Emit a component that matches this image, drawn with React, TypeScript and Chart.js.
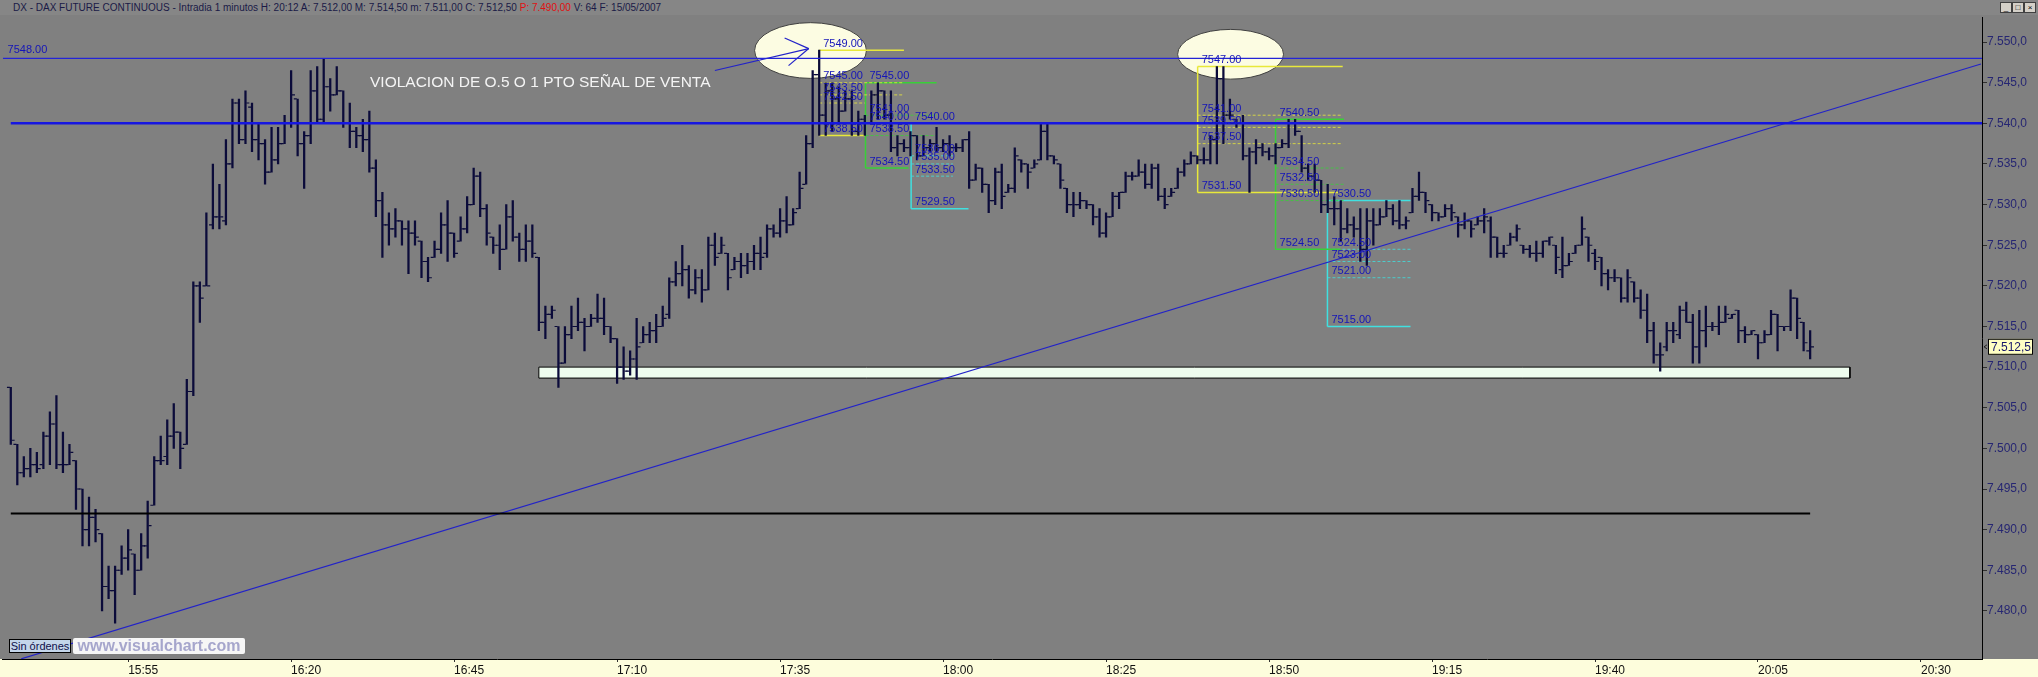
import React, { useEffect, useRef } from "react";
import { Chart, registerables } from "chart.js";
Chart.register(...registerables);

// ---- data: 1-minute bars, minute offset from 15:00, first bar 15:37 ----
const START_MINUTE = 37;

const opens = [
  7507.5, 7500.5, 7497, 7497.5, 7498, 7498, 7501.5, 7503, 7498, 7498,
  7498.5, 7495, 7490, 7491.5, 7489.5, 7483, 7482.5, 7485, 7486.5, 7487,
  7485, 7488, 7493, 7498.5, 7499, 7501.5, 7502, 7500.5, 7507, 7520,
  7520, 7527.5, 7528.5, 7528, 7535, 7542.5, 7538, 7542, 7538, 7537.5,
  7534, 7535.5, 7537.5, 7540, 7543, 7537.5, 7538.5, 7544, 7540.5, 7544.5,
  7543.5, 7544, 7540, 7539, 7538.5, 7538, 7534.5, 7530.5, 7527.5, 7527,
  7528, 7527, 7526.5, 7525.5, 7523, 7523.5, 7524.5, 7527.5, 7526.5, 7525.5,
  7527, 7530, 7533.5, 7529.5, 7526, 7525, 7524.5, 7528.5, 7526, 7524.5,
  7525.5, 7523.5, 7515.5, 7516.5, 7515, 7510.5, 7514, 7515, 7515.5, 7515,
  7516, 7516, 7515, 7513.5, 7510, 7509.5, 7511, 7513, 7514, 7514.5,
  7515, 7516.5, 7520.5, 7521.5, 7522, 7519.5, 7521, 7519.5, 7525, 7524,
  7524, 7522, 7523, 7522.5, 7523, 7524, 7524, 7527, 7526.5, 7528,
  7527.5, 7529.5, 7532.5, 7537.5, 7546, 7541, 7544, 7543, 7541.5, 7543,
  7539, 7540.5, 7540, 7543.5, 7544, 7541, 7537, 7537.5, 7537, 7538.5,
  7536, 7537, 7537.5, 7537, 7537.5, 7537, 7537, 7538, 7533, 7534.5,
  7532.5, 7530.5, 7534, 7531.5, 7532, 7535.5, 7535, 7534.5, 7535.5, 7539,
  7536, 7535, 7532, 7530, 7530, 7530.5, 7530, 7528.5, 7526.5, 7528.5,
  7531, 7531.5, 7533.5, 7533.5, 7534, 7532.5, 7534.5, 7531, 7531, 7532,
  7534, 7535, 7536, 7535.5, 7535.5, 7538, 7545.5, 7541, 7540.5, 7540,
  7536, 7536.5, 7537, 7536.5, 7536, 7537, 7537.5, 7540, 7539, 7534.5,
  7533.5, 7533, 7530, 7529.5, 7529.5, 7527, 7527.5, 7527, 7524.5, 7528,
  7527.5, 7528.5, 7529.5, 7528, 7527.5, 7529, 7531, 7531.5, 7530, 7529,
  7528.5, 7529.5, 7528.5, 7527.5, 7528, 7527.5, 7528, 7528, 7526, 7524,
  7525, 7526, 7525, 7524.5, 7524, 7524, 7525.5, 7525, 7522, 7522.5,
  7524, 7525, 7526, 7524, 7523.5, 7521.5, 7521, 7521, 7518.5, 7520.5,
  7518.5, 7517, 7514.5, 7511.5, 7512.5, 7514.5, 7514, 7517, 7515.5, 7512.5,
  7514.5, 7515, 7515, 7515.5, 7516, 7517, 7514.5, 7514, 7514, 7513,
  7514, 7516.5, 7515, 7515, 7518.5, 7515.5, 7512,
];

const highs = [
  7507.5, 7500.5, 7499, 7500, 7499.5, 7502, 7504.5, 7506.5, 7502, 7500.5,
  7498.5, 7495, 7494, 7492.5, 7489.5, 7485.5, 7485.5, 7488, 7490, 7487,
  7489.5, 7493.5, 7499, 7501.5, 7503.5, 7505.5, 7502, 7508.5, 7520.5, 7520.5,
  7529, 7535, 7532.5, 7538, 7543, 7543, 7544, 7542.5, 7540, 7538,
  7539.5, 7539.5, 7541, 7546.5, 7543, 7539, 7546.5, 7547, 7548, 7545.5,
  7547, 7544, 7542.5, 7539.5, 7540.5, 7541.5, 7535.5, 7531.5, 7529, 7529.5,
  7528, 7528, 7528, 7525.5, 7523.5, 7525.5, 7529, 7530.5, 7526.5, 7528.5,
  7531, 7534.5, 7534, 7530, 7526, 7527.5, 7530, 7530.5, 7526.5, 7527.5,
  7527.5, 7523.5, 7517.5, 7517.5, 7515, 7515, 7517.5, 7518.5, 7516, 7516.5,
  7519, 7518.5, 7515, 7513.5, 7512.5, 7512, 7516, 7515, 7515.5, 7516.5,
  7517.5, 7521, 7523, 7525, 7522.5, 7522, 7522, 7526, 7526.5, 7526,
  7524, 7523.5, 7524, 7524, 7525, 7526, 7527.5, 7527.5, 7529.5, 7531,
  7529.5, 7534, 7538.5, 7546.5, 7549, 7545, 7545, 7544.5, 7544, 7544,
  7541.5, 7541, 7544, 7545, 7544, 7544, 7538.5, 7538, 7539, 7538.5,
  7538.5, 7538, 7539.5, 7538, 7538.5, 7537.5, 7538, 7539, 7535, 7534.5,
  7532.5, 7534.5, 7535, 7532.5, 7537, 7535.5, 7535, 7535.5, 7540, 7540,
  7536, 7535, 7532, 7531.5, 7531.5, 7530.5, 7530, 7529.5, 7529, 7531.5,
  7531.5, 7534, 7534, 7535.5, 7535, 7535, 7535, 7532, 7532, 7534.5,
  7535.5, 7536.5, 7536, 7537, 7538.5, 7547, 7547, 7543, 7540.5, 7541,
  7537, 7538, 7537.5, 7537, 7537.5, 7538, 7540.5, 7540.5, 7538.5, 7535,
  7535, 7533, 7532.5, 7531, 7530.5, 7529.5, 7528.5, 7529.5, 7529.5, 7529.5,
  7529.5, 7530.5, 7530, 7530.5, 7528.5, 7532, 7534, 7531.5, 7530, 7529,
  7530, 7530, 7528.5, 7529, 7528, 7528.5, 7529.5, 7528.5, 7526, 7525,
  7526.5, 7527.5, 7525, 7525, 7525.5, 7525.5, 7526, 7525, 7526, 7524,
  7525, 7528.5, 7526, 7524.5, 7523.5, 7522, 7522, 7521, 7522, 7520.5,
  7519.5, 7519, 7515.5, 7513, 7515.5, 7515.5, 7517.5, 7518, 7516.5, 7517,
  7517.5, 7515.5, 7517.5, 7517.5, 7516.5, 7517, 7515, 7514.5, 7514, 7514.5,
  7517, 7516.5, 7515, 7519.5, 7518.5, 7515.5, 7514.5,
];

const lows = [
  7500.5, 7495.5, 7496.5, 7496.5, 7497, 7497.5, 7498, 7497.5, 7497, 7498,
  7492.5, 7488, 7488, 7488.5, 7480, 7481.5, 7478.5, 7484.5, 7485, 7482,
  7485, 7486.5, 7493, 7498, 7498, 7500, 7497.5, 7500.5, 7506.5, 7515.5,
  7520, 7527, 7527, 7527.5, 7534.5, 7537.5, 7537.5, 7536.5, 7535.5, 7532.5,
  7534, 7535, 7537.5, 7539.5, 7536, 7532, 7537.5, 7540, 7540, 7541.5,
  7543.5, 7539.5, 7537, 7537, 7536.5, 7534, 7528.5, 7523.5, 7525, 7526,
  7525, 7521.5, 7525, 7521, 7520.5, 7523.5, 7524, 7523, 7523.5, 7525.5,
  7526.5, 7530, 7528.5, 7525, 7524, 7522, 7524.5, 7525.5, 7523, 7523,
  7523.5, 7514.5, 7513.5, 7516, 7507.5, 7510.5, 7513.5, 7514.5, 7512, 7515,
  7515.5, 7514, 7513, 7508, 7508.5, 7509, 7508.5, 7513, 7513, 7513,
  7515, 7516, 7520, 7520, 7518.5, 7519, 7518, 7519.5, 7522.5, 7524,
  7519.5, 7522, 7521, 7521.5, 7522, 7522, 7523.5, 7526, 7526, 7526.5,
  7527.5, 7529.5, 7532.5, 7537, 7538.5, 7538.5, 7539, 7540, 7541.5, 7538.5,
  7538.5, 7538.5, 7540, 7540.5, 7540.5, 7536.5, 7536, 7536.5, 7536, 7535.5,
  7536, 7536.5, 7536.5, 7536.5, 7536, 7536.5, 7536.5, 7532, 7533, 7531.5,
  7529, 7530, 7529.5, 7531.5, 7531.5, 7534, 7532, 7534.5, 7535.5, 7535.5,
  7535, 7532, 7529, 7528.5, 7529.5, 7529.5, 7527.5, 7526, 7526, 7528.5,
  7529.5, 7531.5, 7533, 7533.5, 7532, 7532, 7530.5, 7529.5, 7531, 7532,
  7533.5, 7535, 7535, 7535, 7535, 7535, 7537.5, 7540.5, 7539.5, 7535.5,
  7531.5, 7535, 7536, 7535.5, 7535, 7537, 7537, 7538.5, 7534, 7533,
  7531.5, 7529, 7529, 7527.5, 7525.5, 7526.5, 7526, 7523, 7522.5, 7525,
  7527.5, 7528.5, 7527.5, 7527, 7527, 7529, 7530.5, 7529, 7528, 7528,
  7528.5, 7528, 7526, 7527, 7526, 7527.5, 7526.5, 7523.5, 7523.5, 7523.5,
  7525, 7525.5, 7524, 7523.5, 7523, 7523.5, 7525, 7521.5, 7521, 7522.5,
  7524, 7525, 7523, 7522, 7520, 7519.5, 7520.5, 7518, 7518, 7518,
  7516, 7513, 7510.5, 7509.5, 7512, 7513, 7513.5, 7515.5, 7510.5, 7510.5,
  7512.5, 7514.5, 7514, 7515.5, 7516, 7513, 7513, 7514, 7511, 7513,
  7514, 7512, 7514.5, 7514.5, 7513.5, 7512, 7511,
];

const closes = [
  7501, 7497, 7497.5, 7498, 7497.5, 7501.5, 7503, 7498, 7498, 7499.5,
  7495, 7490, 7491.5, 7490, 7483, 7482.5, 7485, 7486.5, 7487.5, 7485,
  7488, 7490.5, 7498.5, 7498.5, 7501.5, 7502, 7500, 7507, 7520, 7518.5,
  7520, 7528.5, 7528.5, 7535, 7542.5, 7538, 7542.5, 7538, 7537.5, 7534,
  7535.5, 7537.5, 7540, 7543.5, 7537.5, 7538.5, 7544, 7540.5, 7544.5, 7543.5,
  7544, 7540, 7539, 7538.5, 7538, 7534.5, 7530.5, 7527.5, 7527, 7528,
  7527, 7526.5, 7526, 7523, 7521, 7524.5, 7527.5, 7526.5, 7524, 7527,
  7530, 7533.5, 7529.5, 7526.5, 7525, 7524.5, 7528.5, 7526, 7524.5, 7525.5,
  7524, 7515.5, 7516.5, 7517, 7510.5, 7514, 7515, 7515.5, 7515, 7516,
  7516, 7515, 7513.5, 7510, 7509.5, 7511, 7512.5, 7514, 7514.5, 7515,
  7516, 7520.5, 7521.5, 7522, 7519.5, 7521, 7519.5, 7525, 7523.5, 7525,
  7521, 7523, 7522.5, 7523, 7524, 7523.5, 7527, 7526.5, 7528, 7527.5,
  7529, 7532, 7537.5, 7546, 7541, 7544, 7543, 7541.5, 7543, 7539,
  7540.5, 7540, 7543.5, 7544, 7541, 7537, 7537.5, 7537, 7538.5, 7536,
  7537, 7537.5, 7537, 7537.5, 7537, 7537, 7538, 7533, 7534.5, 7532.5,
  7530.5, 7534, 7531, 7532, 7536, 7535, 7534, 7535, 7539, 7536,
  7535.5, 7533, 7530, 7530, 7530.5, 7530, 7528.5, 7526.5, 7528.5, 7531,
  7531.5, 7533.5, 7533.5, 7534, 7532.5, 7534.5, 7531, 7530, 7531.5, 7534,
  7535, 7536, 7535.5, 7535.5, 7538, 7545.5, 7541, 7541, 7540, 7536,
  7536.5, 7537, 7536.5, 7536, 7537, 7537.5, 7540, 7539, 7534.5, 7533.5,
  7533, 7530, 7529.5, 7529.5, 7527, 7527.5, 7527, 7524.5, 7528, 7527.5,
  7528.5, 7529.5, 7528, 7527.5, 7528, 7531, 7531.5, 7530.5, 7529, 7528.5,
  7529.5, 7529, 7527.5, 7528, 7527, 7528, 7528.5, 7526, 7524, 7524,
  7526, 7527, 7524.5, 7524, 7524, 7525.5, 7526, 7523.5, 7522.5, 7523,
  7525, 7527, 7525, 7523, 7521.5, 7521, 7521, 7518.5, 7521, 7518.5,
  7517, 7514.5, 7511.5, 7511.5, 7514.5, 7514.5, 7517, 7515.5, 7512.5, 7514.5,
  7515, 7515, 7515.5, 7516.5, 7516.5, 7514.5, 7514, 7514.5, 7513, 7514,
  7516.5, 7515, 7515, 7518.5, 7516, 7513, 7512.5,
];

// axis ticks (minutes since 15:00) and price ticks
const timeTicks = [55, 80, 105, 130, 155, 180, 205, 230, 255, 280, 305, 330];
const priceTicks = [7480, 7485, 7490, 7495, 7500, 7505, 7510, 7515, 7520, 7525, 7530, 7535, 7540, 7545, 7550];
const X_MIN = 35.76;
const X_MAX = 339.36;
const Y_MIN = 7474.08;
const Y_MAX = 7553.0;

// drawn studies
const resistanceThin = 7548;
const resistanceThick = 7540;
const supportBlack = 7492;
const supportBoxX = [118, 319.1];
const supportBoxY = [7510, 7508.65];
const trendLine = [{ x: 38.6, y: 7474.1 }, { x: 339.2, y: 7547.3 }];
const arrowTip = { x: 159.4, y: 7549.2 };
const arrowTail = { x: 145.0, y: 7546.5 };
const arrowBarbs = [{ x: 155.7, y: 7550.5 }, { x: 156.3, y: 7547.1 }];
const ellipses = [
  { cx: 159.67, cy: 7548.96, rx: 8.58, ry: 3.43 },
  { cx: 224.1, cy: 7548.5, rx: 8.12, ry: 3.06 },
];
const lastPrice = 7512.5;
const noteText = "VIOLACION DE O.5 O 1 PTO SEÑAL DE VENTA";
const noteAnchor = { x: 92.1, y: 7545.0 };

const fibGroups = [
  { color: "#e8e83a", x0: 161.0, ends: [174.0, 174.0, 174.0, 168.0, 168.0], levels: [7549, 7545, 7543.5, 7542.5, 7538.5] },
  { color: "#38d038", x0: 168.1, ends: [179.0, 179.0, 179.0, 179.0, 174.7], levels: [7545, 7541, 7540, 7538.5, 7534.5] },
  { color: "#40e0e0", x0: 175.1, ends: [183.9, 181.5, 181.5, 181.5, 183.9], levels: [7540, 7536, 7535, 7533.5, 7529.5] },
  { color: "#e8e83a", x0: 219.05, ends: [241.3, 241.3, 241.3, 241.3, 241.0], levels: [7547, 7541, 7539.5, 7537.5, 7531.5] },
  { color: "#38d038", x0: 231.0, ends: [241.5, 241.5, 241.5, 241.5, 241.0], levels: [7540.5, 7534.5, 7532.5, 7530.5, 7524.5] },
  { color: "#40e0e0", x0: 238.96, ends: [251.7, 251.7, 251.7, 251.7, 251.7], levels: [7530.5, 7524.5, 7523, 7521, 7515] },
];

const FONT = "Arial, 'Liberation Sans', sans-serif";
const BAR_COLOR = "#0b0b3a";
const TICK_OFFSET = 0.36;

const fmtTime = (m: number) => `${15 + Math.floor(m / 60)}:${String(m % 60).padStart(2, "0")}`;
const fmtPrice = (v: number) => {
  const s = v.toFixed(1).replace(".", ",");
  return s[0] + "." + s.slice(1);
};

const seg = (pts: { x: number; y: number }[], color: string, width: number, order: number, dash: number[] = []) => ({
  type: "line" as const,
  data: pts,
  borderColor: color,
  borderWidth: width,
  borderDash: dash,
  pointRadius: 0,
  pointHoverRadius: 0,
  fill: false,
  tension: 0,
  order,
});

function buildDatasets() {
  const ds: any[] = [];
  ds.push({
    type: "line",
    data: [
      { x: supportBoxX[0], y: supportBoxY[0] },
      { x: supportBoxX[1], y: supportBoxY[0] },
      { x: supportBoxX[1], y: supportBoxY[1] },
      { x: supportBoxX[0], y: supportBoxY[1] },
      { x: supportBoxX[0], y: supportBoxY[0] },
    ],
    borderColor: "#000000",
    borderWidth: 1,
    backgroundColor: "#eefcee",
    fill: "shape",
    pointRadius: 0,
    tension: 0,
    order: 100,
  });
  fibGroups.forEach((g) => {
    const n = g.levels.length;
    g.levels.forEach((v, i) => {
      const solid = i === 0 || i === n - 1;
      ds.push(seg([{ x: g.x0, y: v }, { x: g.ends[i], y: v }], solid ? g.color : g.color + "cc", solid ? 1.5 : 1, 50, solid ? [] : [3, 2]));
    });
    ds.push(seg([{ x: g.x0, y: g.levels[0] }, { x: g.x0, y: g.levels[n - 1] }], g.color, 1.5, 50));
  });
  ds.push({
    type: "bar",
    data: highs.map((h, i) => ({ x: START_MINUTE + i, y: [lows[i], h] })),
    backgroundColor: BAR_COLOR,
    borderWidth: 0,
    barThickness: 1.6,
    grouped: false,
    order: 20,
  });
  ds.push({
    type: "scatter",
    data: opens.map((o, i) => ({ x: START_MINUTE + i - TICK_OFFSET, y: o })),
    pointStyle: "line",
    pointRadius: 1.5,
    pointBorderWidth: 1.2,
    pointBorderColor: BAR_COLOR,
    pointHoverRadius: 0,
    showLine: false,
    order: 19,
  });
  ds.push({
    type: "scatter",
    data: closes.map((c, i) => ({ x: START_MINUTE + i + TICK_OFFSET, y: c })),
    pointStyle: "line",
    pointRadius: 1.5,
    pointBorderWidth: 1.2,
    pointBorderColor: BAR_COLOR,
    pointHoverRadius: 0,
    showLine: false,
    order: 19,
  });
  ds.push(seg(trendLine, "#2222c8", 1.2, 10));
  ds.push(seg([arrowTail, arrowTip], "#2222c8", 1.2, 10));
  arrowBarbs.forEach((b) => ds.push(seg([b, arrowTip], "#2222c8", 1.2, 10)));
  ds.push(seg([{ x: 35.8, y: resistanceThin }, { x: X_MAX, y: resistanceThin }], "#2424d8", 1.2, 5));
  ds.push(seg([{ x: 37.0, y: resistanceThick }, { x: X_MAX, y: resistanceThick }], "#1616e0", 2.5, 5));
  ds.push(seg([{ x: 37.0, y: supportBlack }, { x: 313.0, y: supportBlack }], "#000000", 2, 5));
  return ds;
}

const overlayPlugin = {
  id: "overlay",
  beforeDraw(chart: any) {
    const { ctx, chartArea, width, height } = chart;
    ctx.save();
    ctx.fillStyle = "#808080";
    ctx.fillRect(0, 0, width, height);
    ctx.fillStyle = "#fdfddc";
    ctx.fillRect(0, chartArea.bottom, width, height - chartArea.bottom);
    ctx.restore();
  },
  beforeDatasetsDraw(chart: any) {
    const { ctx } = chart;
    const xs = chart.scales.x;
    const ys = chart.scales.y;
    ctx.save();
    ellipses.forEach((e) => {
      const cx = xs.getPixelForValue(e.cx);
      const cy = ys.getPixelForValue(e.cy);
      const rx = Math.abs(xs.getPixelForValue(e.cx + e.rx) - cx);
      const ry = Math.abs(ys.getPixelForValue(e.cy + e.ry) - cy);
      ctx.beginPath();
      ctx.ellipse(cx, cy, rx, ry, 0, 0, Math.PI * 2);
      ctx.fillStyle = "#fcfce2";
      ctx.fill();
      ctx.lineWidth = 1;
      ctx.strokeStyle = "#404040";
      ctx.stroke();
    });
    ctx.restore();
  },
  afterDatasetsDraw(chart: any) {
    const { ctx } = chart;
    const xs = chart.scales.x;
    const ys = chart.scales.y;
    ctx.save();
    ctx.font = `11px ${FONT}`;
    ctx.fillStyle = "#1414b8";
    ctx.textAlign = "left";
    ctx.textBaseline = "bottom";
    fibGroups.forEach((g) => {
      const x = xs.getPixelForValue(g.x0) + 4;
      g.levels.forEach((v) => {
        ctx.fillText(v.toFixed(2), x, ys.getPixelForValue(v) - 1);
      });
    });
    ctx.fillText(resistanceThin.toFixed(2), xs.getPixelForValue(36.5), ys.getPixelForValue(resistanceThin) - 3);
    ctx.font = `15.5px ${FONT}`;
    ctx.fillStyle = "#f4f4f4";
    ctx.textBaseline = "middle";
    ctx.fillText(noteText, xs.getPixelForValue(noteAnchor.x), ys.getPixelForValue(noteAnchor.y));
    ctx.restore();
  },
  afterDraw(chart: any) {
    const { ctx, chartArea } = chart;
    const ys = chart.scales.y;
    const y = ys.getPixelForValue(lastPrice);
    ctx.save();
    const x0 = chartArea.right + 6;
    ctx.fillStyle = "#ffffc4";
    ctx.fillRect(x0, y - 8, 45, 16);
    ctx.strokeStyle = "#000000";
    ctx.lineWidth = 1;
    ctx.strokeRect(x0 + 0.5, y - 7.5, 44, 15);
    ctx.font = `12px ${FONT}`;
    ctx.fillStyle = "#16166a";
    ctx.textAlign = "left";
    ctx.textBaseline = "middle";
    ctx.fillText(fmtPrice(lastPrice), x0 + 3, y + 0.5);
    ctx.beginPath();
    ctx.moveTo(chartArea.right + 5, y - 2);
    ctx.lineTo(chartArea.right + 2, y);
    ctx.lineTo(chartArea.right + 5, y + 2);
    ctx.strokeStyle = "#202020";
    ctx.stroke();
    ctx.restore();
  },
};

export default function App() {
  const ref = useRef<HTMLCanvasElement | null>(null);
  useEffect(() => {
    if (!ref.current) return;
    const chart = new Chart(ref.current, {
      type: "line",
      data: { datasets: buildDatasets() },
      options: {
        responsive: false,
        animation: false,
        devicePixelRatio: 1,
        events: [],
        layout: { padding: 0 },
        plugins: { legend: { display: false }, tooltip: { enabled: false }, title: { display: false } },
        scales: {
          x: {
            type: "linear",
            position: "bottom",
            offset: false,
            min: X_MIN,
            max: X_MAX,
            afterBuildTicks: (s: any) => {
              s.ticks = timeTicks.map((v) => ({ value: v }));
            },
            afterFit: (s: any) => {
              s.height = 18;
              s.paddingLeft = 0;
              s.paddingRight = 0;
            },
            ticks: {
              callback: (v: any) => fmtTime(Number(v)),
              color: "#111111",
              font: { family: FONT, size: 12 },
              align: "start",
              maxRotation: 0,
              autoSkip: false,
              padding: 1,
            },
            grid: { offset: false, drawOnChartArea: false, tickLength: 3, tickColor: "#303030" },
            border: { color: "#000000", width: 1 },
          },
          y: {
            type: "linear",
            position: "right",
            min: Y_MIN,
            max: Y_MAX,
            afterBuildTicks: (s: any) => {
              s.ticks = priceTicks.map((v) => ({ value: v }));
            },
            afterFit: (s: any) => {
              s.width = 56;
              s.paddingTop = 0;
              s.paddingBottom = 0;
            },
            ticks: {
              callback: (v: any) => fmtPrice(Number(v)),
              color: "#262672",
              font: { family: FONT, size: 12 },
              padding: 0,
              autoSkip: false,
            },
            grid: { drawOnChartArea: false, tickLength: 5, tickColor: "#303030" },
            border: { color: "#000000", width: 1 },
          },
        },
      } as any,
      plugins: [overlayPlugin],
    });
    return () => chart.destroy();
  }, []);

  const btn = (label: string, left: number) => (
    <div
      style={{
        position: "absolute",
        left,
        top: 2,
        width: 10,
        height: 9,
        background: "#d4d0c8",
        border: "1px solid #404040",
        fontSize: 8,
        lineHeight: "9px",
        textAlign: "center",
        color: "#000",
      }}
    >
      {label}
    </div>
  );

  return (
    <div
      style={{
        position: "absolute",
        left: 0,
        top: 0,
        width: 2038,
        height: 677,
        background: "#808080",
        overflow: "hidden",
        fontFamily: FONT,
      }}
    >
      <div style={{ position: "absolute", left: 0, top: 0, width: 2038, height: 15, background: "#868686" }}>
        <span
          style={{
            position: "absolute",
            left: 13,
            top: 1,
            fontSize: 10,
            lineHeight: "13px",
            whiteSpace: "pre",
            color: "#1a1a46",
          }}
        >
          {"DX - DAX FUTURE CONTINUOUS - Intradia 1 minutos H: 20:12 A: 7.512,00 M: 7.514,50 m: 7.511,00 C: 7.512,50 "}
          <span style={{ color: "#e01010" }}>{"P: 7.490,00"}</span>
          {" V: 64 F: 15/05/2007"}
        </span>
        {btn("_", 2000)}
        {btn("□", 2012)}
        {btn("×", 2024)}
      </div>
      <canvas
        ref={ref}
        width={2038}
        height={662}
        style={{ position: "absolute", left: 0, top: 15, width: 2038, height: 662 }}
      />
      <div
        style={{
          position: "absolute",
          left: 9,
          top: 639,
          width: 62,
          height: 14,
          boxSizing: "border-box",
          background: "#c4d6ea",
          border: "1px solid #000",
          fontSize: 11,
          lineHeight: "12px",
          textAlign: "center",
          color: "#10104a",
        }}
      >
        Sin órdenes
      </div>
      <div
        style={{
          position: "absolute",
          left: 73,
          top: 638,
          width: 172,
          height: 16,
          background: "#f6f6f6",
          borderRadius: 2,
          fontSize: 16,
          fontWeight: "bold",
          lineHeight: "16px",
          color: "#a6a6cc",
          textAlign: "center",
        }}
      >
        www.visualchart.com
      </div>
    </div>
  );
}
